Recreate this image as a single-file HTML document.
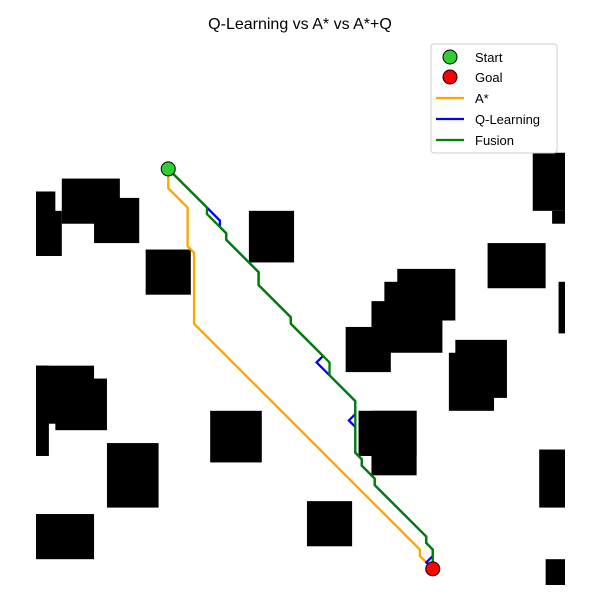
<!DOCTYPE html>
<html><head><meta charset="utf-8"><style>
html,body{margin:0;padding:0;background:#fff;}
svg{display:block;font-family:"Liberation Sans","DejaVu Sans",sans-serif;}
</style></head><body>
<svg id="chart" width="600" height="600" viewBox="0 0 600 600">
<text x="300" y="29" text-anchor="middle" font-size="16">Q-Learning vs A* vs A*+Q</text>
<g id="obs"></g>
<g id="paths"></g>
<g id="legend">
<rect x="431" y="44" width="126" height="109" rx="3" fill="#fff" fill-opacity="0.8" stroke="#ccc"/>
<circle cx="450" cy="57" r="7" fill="#32cd32" stroke="#000"/>
<text x="475" y="62" font-size="13">Start</text>
<circle cx="450" cy="77" r="7" fill="#ff0000" stroke="#000"/>
<text x="475" y="82" font-size="13">Goal</text>
<line x1="436" y1="98" x2="464" y2="98" stroke="#ffa500" stroke-width="2.2"/>
<text x="475" y="103" font-size="13">A*</text>
<line x1="436" y1="119" x2="464" y2="119" stroke="#0000ff" stroke-width="2.2"/>
<text x="475" y="124" font-size="13">Q-Learning</text>
<line x1="436" y1="140" x2="464" y2="140" stroke="#008000" stroke-width="2.2"/>
<text x="475" y="145" font-size="13">Fusion</text>
</g>
</svg>
<script>
const gridSize = 82;
const obstacles = [
 [0,21,3,10],[0,24,4,7],[4,19,9,7],[9,22,7,7],[17,30,7,7],[33,24,7,8],
 [77,15,5,9],[80,24,2,2],[70,29,9,7],[81,35,1,8],
 [56,33,9,8],[54,35,9,11],[52,38,4,7],[48,42,7,7],[65,44,8,9],[64,46,7,9],
 [0,48,9,9],[3,50,8,8],[0,48,2,14],[11,60,8,10],[0,71,9,7],[27,55,8,8],
 [50,55,9,7],[52,55,7,10],[42,69,7,7],[78,61,4,9],[79,78,3,4]
];
const startCell = [20,17];
const goalCell = [61,79];
const astarPath = [[20,17],[20,20],[23,23],[23,29],[24,30],[24,41],[59,76],[59,77],[61,79]];
const qPath = [[20,17],[26,23],[28,25],[28,26],[29,27],[29,28],[34,33],[34,35],[39,40],[39,41],[44,46],[43,47],[45,49],[49,53],[49,55],[48,56],[49,57],[49,61],[50,62],[50,63],[52,65],[52,66],[60,74],[60,75],[61,76],[61,77],[60,78],[61,79]];
const fusionPath = [[20,17],[26,23],[26,24],[29,27],[29,28],[34,33],[34,35],[39,40],[39,41],[45,47],[45,49],[49,53],[49,61],[50,62],[50,63],[52,65],[52,66],[60,74],[60,75],[61,76],[61,79]];

const X0 = 36, Y0 = 56, W = 529;
const cell = W / gridSize;
const sx = c => X0 + c * cell;
const sy = r => Y0 + r * cell;
const NS = 'http://www.w3.org/2000/svg';
const og = document.getElementById('obs');
obstacles.forEach((o, i) => {
  const r = document.createElementNS(NS, 'rect');
  r.setAttribute('x', sx(o[0])); r.setAttribute('y', sy(o[1]));
  r.setAttribute('width', o[2] * cell); r.setAttribute('height', o[3] * cell);
  r.setAttribute('fill', '#000');
  
  
  og.appendChild(r);
});
const pg = document.getElementById('paths');
function drawPath(p, color, name) {
  const pl = document.createElementNS(NS, 'polyline');
  pl.setAttribute('points', p.map(q => sx(q[0] + 0.5) + ',' + sy(q[1] + 0.5)).join(' '));
  pl.setAttribute('fill', 'none'); pl.setAttribute('stroke', color);
  pl.setAttribute('stroke-width', '2.3');
  
  
  pg.appendChild(pl);
}
drawPath(astarPath, '#ffa500', 'astar-path');
drawPath(qPath, '#0000ff', 'qlearning-path');
drawPath(fusionPath, '#008000', 'fusion-path');
function marker(c, color, name) {
  const m = document.createElementNS(NS, 'circle');
  m.setAttribute('cx', sx(c[0] + 0.5)); m.setAttribute('cy', sy(c[1] + 0.5));
  m.setAttribute('r', 7); m.setAttribute('fill', color); m.setAttribute('stroke', '#000');
  
  
  pg.appendChild(m);
}
marker(startCell, '#32cd32', 'start-marker');
marker(goalCell, '#ff0000', 'goal-marker');
</script>
</body></html>
